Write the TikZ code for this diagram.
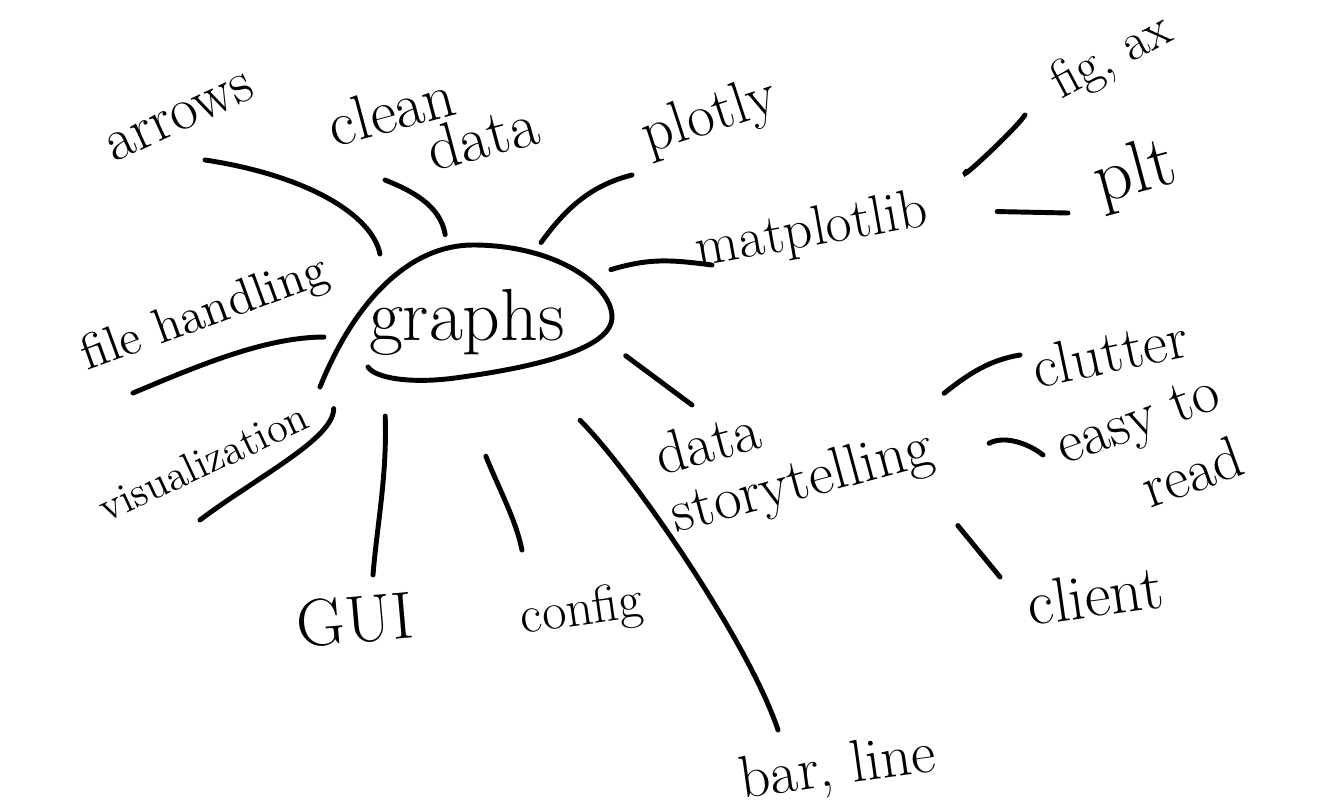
\documentclass[tikz,border=0pt]{standalone}
\usetikzlibrary{shapes.geometric,calc}
\begin{document}
\begin{tikzpicture}[x=0.01cm,y=-0.01cm,
    link/.style={line width=1.4pt,line cap=round},
    leaf/.style={font=\fontsize{17}{20}\selectfont,inner sep=2pt,align=center},
    hub/.style={ellipse,minimum width=2.9cm,minimum height=1.56cm,inner sep=0pt,font=\fontsize{21}{24}\selectfont}]
    \useasboundingbox (0,0) rectangle (1320,812);
    %nodo centrale
    \node[hub] (graphs) at (467,322) {graphs};
    \draw[link] (320,387) .. controls (355,300) and (410,245) .. (473,245) .. controls (555,245) and (612,285) .. (612,317) .. controls (612,350) and (530,368) .. (455,378) .. controls (410,384) and (375,378) .. (368,367);
    %rami
    \node[leaf,rotate=25] (arrows) at (180,118) {arrows};
    \node[leaf,rotate=15,align=left,font=\fontsize{18}{14}\selectfont] (clean) at (433,124) {clean\\\hspace{1.4em}data};
    \node[leaf,rotate=18] (plotly) at (710,118) {plotly};
    \node[leaf,rotate=10,font=\fontsize{16}{19}\selectfont] (matplotlib) at (812,232) {matplotlib};
    \node[leaf,rotate=28,font=\fontsize{15}{18}\selectfont] (figax) at (1112,58) {fig, ax};
    \node[leaf,rotate=15,font=\fontsize{21}{22}\selectfont] (plt) at (1135,175) {plt};
    \node[leaf,rotate=20,font=\fontsize{14}{17}\selectfont] (filehand) at (205,315) {file handling};
    \node[leaf,rotate=25,font=\fontsize{12}{14}\selectfont] (visual) at (203,462) {visualization};
    \node[leaf,rotate=5,font=\fontsize{19}{22}\selectfont] (gui) at (355,620) {GUI};
    \node[leaf,rotate=8,font=\fontsize{15}{18}\selectfont] (config) at (582,612) {config};
    \node[leaf,rotate=8] (barline) at (838,770) {bar, line};
    \node[leaf,rotate=15,align=left,font=\fontsize{17}{17}\selectfont] (story) at (795,455) {data\\storytelling};
    \node[leaf,rotate=12] (clutter) at (1110,352) {clutter};
    \node[leaf,rotate=20,align=right] (easy) at (1150,452) {easy to\\read};
    \node[leaf,rotate=8,font=\fontsize{18}{21}\selectfont] (client) at (1095,595) {client};
    %estremi liberi
    \coordinate (arrows-end) at (205,160);
    \coordinate (clean-end) at (385,180);
    \coordinate (plotly-end) at (632,175);
    \coordinate (mpl-end) at (712,265);
    \coordinate (fh-end) at (133,393);
    \coordinate (vis-end) at (200,520);
    \coordinate (gui-end) at (373,575);
    \coordinate (cfg-end) at (522,550);
    \coordinate (bar-end) at (778,730);
    \coordinate (story-end) at (692,405);
    \coordinate (figax-end) at (1025,115);
    \coordinate (plt-end) at (1068,213);
    \coordinate (clutter-end) at (1020,355);
    \coordinate (easy-end) at (1043,455);
    \coordinate (client-end) at (1000,577);
    %collegamenti dal centro
    \draw[link] ($(graphs.center)!1.05!(graphs.142)$) .. controls +(-8,-40) and +(100,15) .. (arrows-end);
    \draw[link] ($(graphs.center)!1.12!(graphs.104)$) .. controls +(-5,-30) and +(25,10) .. (clean-end);
    \draw[link] ($(graphs.center)!1.13!(graphs.47)$) .. controls +(25,-35) and +(-40,10) .. (plotly-end);
    \draw[link] ($(graphs.center)!1.19!(graphs.20)$) .. controls +(40,-12) and +(-40,-5) .. (mpl-end);
    \draw[link] (graphs.186) .. controls +(-60,0) and +(60,-25) .. (fh-end);
    \draw[link] ($(graphs.center)!1.43!(graphs.213)$) .. controls +(0,30) and +(60,-45) .. (vis-end);
    \draw[link] ($(graphs.center)!1.32!(graphs.229)$) .. controls +(2,60) and +(4,-50) .. (gui-end);
    \draw[link] ($(graphs.center)!1.71!(graphs.278)$) .. controls +(12,30) and +(-6,-30) .. (cfg-end);
    \draw[link] ($(graphs.center)!1.47!(graphs.319)$) .. controls +(50,50) and +(-30,-90) .. (bar-end);
    \draw[link] ($(graphs.center)!1.17!(graphs.348)$) -- (story-end);
    %collegamenti secondari
    \draw[link,shorten <=0.5cm] (matplotlib.east) .. controls +(20,-25) and +(-10,15) .. (figax-end);
    \draw[link,shorten <=0.62cm] (matplotlib.east) -- (plt-end);
    \draw[link] ($(story.east)+(12,-25)$) .. controls +(25,-20) and +(-30,5) .. (clutter-end);
    \draw[link] ($(story.east)+(57,25)$) .. controls +(15,-8) and +(-15,-12) .. (easy-end);
    \draw[link] ($(story.south east)+(9,45)$) -- (client-end);
\end{tikzpicture}
\end{document}
